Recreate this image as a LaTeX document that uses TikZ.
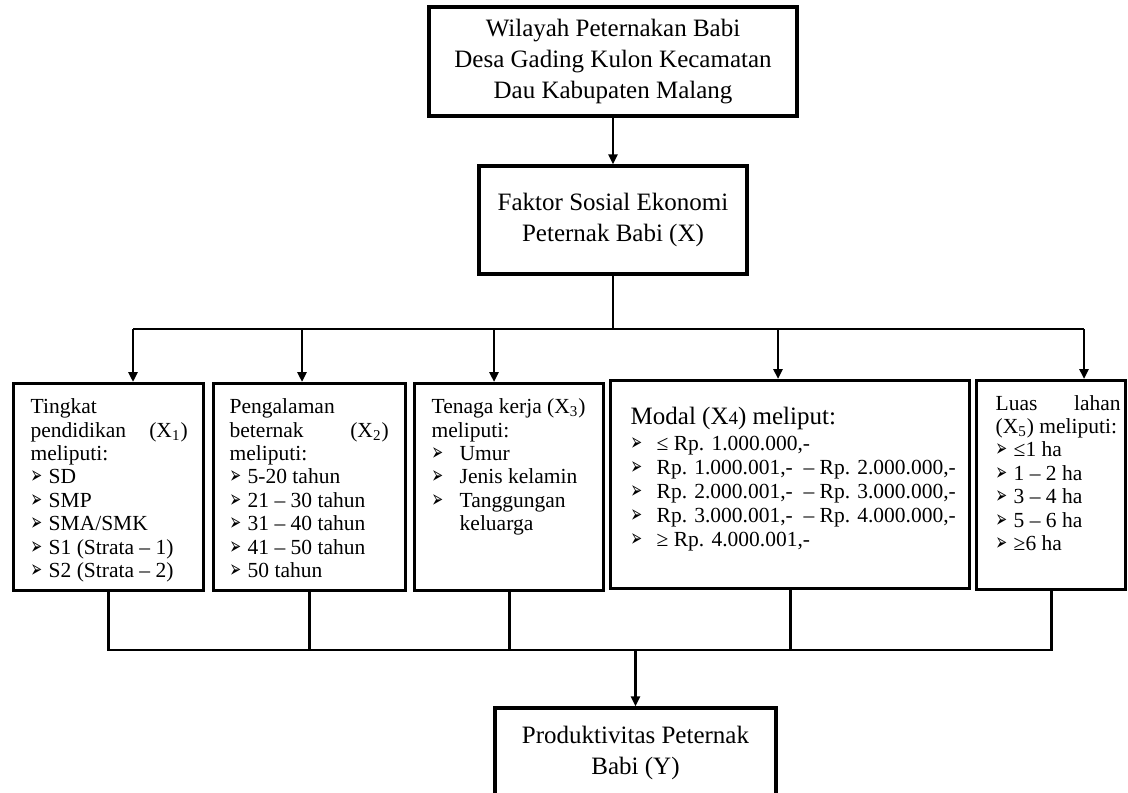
\documentclass[tikz,border=0pt]{standalone}
\usepackage{fontspec}
\usepackage{graphicx}
\setmainfont{Liberation Serif}
\newfontfamily\dingfont{DejaVu Sans}
\usetikzlibrary{arrows.meta}
\usetikzlibrary{positioning}

\newcommand{\bigtext}{\fontsize{12.5}{15.5}\selectfont}
\newcommand{\smalltext}{\fontsize{10.75}{11.7}\selectfont}
\newcommand{\bul}{\scalebox{0.6}[1.05]{\dingfont\fontsize{11.5}{10}\selectfont\symbol{"27A2}}}
\newcommand{\itm}[2][9pt]{\par\hangindent=#1\hangafter=1\noindent\makebox[#1][l]{\bul}#2}
% width, height, top pad, left pad, right pad, text
\newcommand{\boxtext}[6]{\parbox[c][#2][t]{#1}{\smalltext\parindent=0pt
    \leftskip=#4\rightskip=#5\vspace*{#3}#6}}

\tikzstyle{bigbox} = [rectangle, draw=black, line width=1.7pt, align=center, font=\bigtext]
\tikzstyle{box} = [rectangle, draw=black, line width=1.7pt, inner sep=0pt, anchor=north west]
\tikzstyle{link} = [line width=1.3pt]
\tikzstyle{arrow} = [line width=1.3pt, -{Triangle[length=5pt,width=4.5pt]}]

\begin{document}
\begin{tikzpicture}[x=0.5pt, y=-0.5pt]
  \useasboundingbox (0,0) rectangle (1128,792);
  \clip (0,0) rectangle (1128,792);

  \node (wil) [bigbox, minimum width=184pt, minimum height=54.5pt] at (613,61.5)
  {Wilayah Peternakan Babi\\Desa Gading Kulon Kecamatan\\Dau Kabupaten Malang};
  \node (fak) [bigbox, minimum width=134pt, minimum height=54pt] at (613,220)
  {Faktor Sosial Ekonomi\\Peternak Babi (X)};

  \node (x1) [box] at (12,382) {\boxtext{95pt}{103.5pt}{7.5pt}{8.5pt}{8pt}{%
      Tingkat\\ pendidikan\hfill(X\textsubscript{1})\\ meliputi:
      \itm{SD}\itm{SMP}\itm{SMA/SMK}\itm{S1 (Strata – 1)}\itm{S2 (Strata – 2)}}};
  \node (x2) [box] at (212,382) {\boxtext{96pt}{103.5pt}{7.5pt}{8pt}{8.5pt}{%
      Pengalaman\\ beternak\hfill(X\textsubscript{2})\\ meliputi:
      \itm{5-20 tahun}\itm{21 – 30 tahun}\itm{31 – 40 tahun}\itm{41 – 50 tahun}\itm{50 tahun}}};
  \node (x3) [box] at (413,382) {\boxtext{94.5pt}{103.5pt}{7.5pt}{8.5pt}{8pt}{%
      Tenaga kerja (X\textsubscript{3})\\ meliputi:
      \itm[14pt]{Umur}\itm[14pt]{Jenis kelamin}\itm[14pt]{Tanggungan\\ keluarga}}};
  \node (x4) [box] at (609,379) {\boxtext{179.5pt}{104pt}{13pt}{10pt}{5pt}{%
      {\bigtext Modal (X{\fontsize{9.5}{9.5}\selectfont 4}) meliput:\par}\vspace{1pt}
      \fontsize{10.75}{12}\selectfont
      \itm[13pt]{≤ Rp. 1.000.000,-}
      \itm[13pt]{Rp. 1.000.001,-\ \ – Rp. 2.000.000,-}
      \itm[13pt]{Rp. 2.000.001,-\ \ – Rp. 3.000.000,-}
      \itm[13pt]{Rp. 3.000.001,-\ \ – Rp. 4.000.000,-}
      \itm[13pt]{≥ Rp. 4.000.001,-}}};
  \node (x5) [box] at (975,379) {\boxtext{74.5pt}{104.5pt}{7.2pt}{9.5pt}{2.5pt}{%
      Luas\hfill lahan\\ \mbox{(X\textsubscript{5}) meliputi:}
      \itm{≤1 ha}\itm{1 – 2 ha}\itm{3 – 4 ha}\itm{5 – 6 ha}\itm{≥6 ha}}};

  \node (prod) [bigbox, minimum width=140.5pt, minimum height=45pt] at (635.5,753)
  {Produktivitas Peternak\\Babi (Y)};

  % split from X to the five factors
  \coordinate (up) at (613,329);
  \coordinate (a1) at (133,329);
  \coordinate (a2) at (302,329);
  \coordinate (a3) at (494,329);
  \coordinate (a4) at (778,329);
  \coordinate (a5) at (1084,329);
  \coordinate (down) at (633,650);

  \draw[arrow] (wil) -- (fak);
  \draw[link] (fak.south) -- (up);
  \draw[link] (a1) -- (a5);
  \foreach \i in {1,...,5}
  \draw[arrow] (a\i) -- (a\i |- x\i.north);

  % join to Y
  \draw[link] (x1.south) |- (x5.south |- down) -- (x5.south);
  \foreach \i in {2,3,4}
  \draw[link] (x\i.south) -- (x\i.south |- down);
  \draw[arrow] (prod.north |- down) -- (prod.north);
\end{tikzpicture}
\end{document}
